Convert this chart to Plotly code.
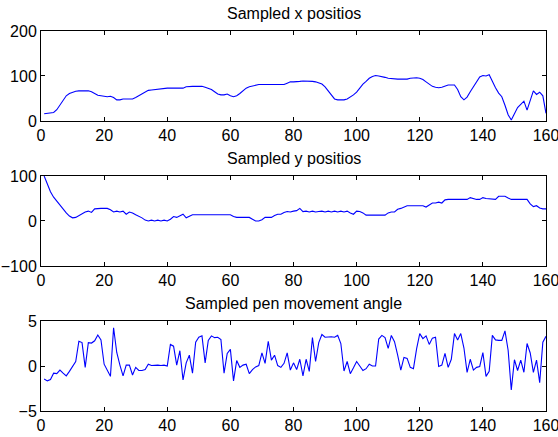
import plotly.graph_objects as go

t = list(range(1, 161))

x_pos = [16, 17, 18, 19, 25, 35, 47, 56, 61, 64, 66, 67, 67, 67, 67, 65, 61, 57, 56, 55,
         54, 55, 52, 47, 47, 49, 49, 49, 49, 52, 56, 60, 64, 68, 69, 70, 71, 72, 72, 73,
         73, 73, 73, 73, 73, 76, 77, 77, 77, 77, 77, 75, 73, 70, 65, 60, 58, 58, 60, 56,
         54, 56, 61, 67, 73, 76, 78, 80, 81, 81, 81, 81, 81, 81, 81, 81, 81, 84, 87, 87,
         87, 88, 89, 89, 89, 88, 87, 85, 82, 76, 67, 56, 49, 47, 47, 47, 49, 53, 58, 64,
         74, 82, 88, 95, 99, 101, 100, 99, 97, 95, 94, 93, 93, 93, 93, 93, 95, 96, 96, 95,
         92, 87, 82, 77, 75, 74, 75, 78, 80, 80, 80, 70, 54, 47, 53, 65, 77, 88, 98, 101,
         100, 103, 88, 74, 62, 54, 35, 14, 2, 18, 30, 37, 44, 24, 45, 67, 59, 64, 56, 17]

y_pos = [100, 81, 65, 53, 44, 35, 27, 18, 11, 7, 8, 12, 16, 20, 22, 19, 27, 28, 28, 28,
         28, 25, 20, 22, 20, 22, 15, 20, 18, 14, 11, 7, 2, 0, 2, 0, 2, 0, 2, 0,
         4, 10, 8, 12, 15, 7, 11, 14, 14, 14, 14, 14, 14, 14, 14, 14, 14, 14, 14, 14,
         10, 8, 8, 8, 8, 8, 4, 0, 0, 3, 8, 8, 8, 12, 15, 15, 19, 21, 20, 22,
         23, 28, 21, 22, 20, 22, 20, 21, 22, 20, 22, 20, 22, 20, 22, 20, 22, 18, 15, 22,
         21, 18, 13, 13, 13, 13, 13, 13, 13, 18, 20, 20, 26, 28, 31, 34, 34, 34, 34, 34,
         34, 31, 36, 40, 40, 42, 40, 47, 48, 48, 48, 48, 48, 48, 48, 52, 50, 48, 48, 52,
         50, 49, 48, 48, 55, 55, 55, 51, 48, 48, 48, 48, 48, 48, 38, 32, 34, 29, 27, 27]

angle = [-1.45, -1.65, -1.5, -0.8, -0.85, -0.45, -0.8, -1.1, -0.6, 0.0,
         0.5, 2.75, 2.6, -0.15, 2.6, 2.55, 2.8, 3.45, 2.9, 0.2,
         -0.5, -1.15, 4.25, 1.5, 0.1, -1.1, 0.1, 0.1, -1.0, -0.15,
         -0.5, -0.5, -0.4, 0.2, 0.05, 0.1, 0.1, 0.05, 0.1, 0.0,
         2.4, 2.2, 0.1, 1.7, -1.55, 0.35, 1.2, -0.8, 2.65, 3.2,
         3.35, 0.35, 2.85, 3.35, 3.15, 3.2, 2.95, -0.8, 1.4, 1.85,
         -1.65, 0.6, -0.15, 0.1, 0.2, -0.85, -0.4, -0.1, 0.05, 1.45,
         0.3, 2.75, 0.65, 1.2, 0.05, -0.15, 0.3, 1.45, -0.45, 0.35,
         -0.4, 0.75, -1.1, 0.75, -0.6, 3.15, 0.5, 2.6, 3.5, 3.2,
         3.25, 3.25, 3.2, 3.4, 2.5, -0.55, 0.5, -0.85, -0.2, 0.5,
         0.0, -0.5, -0.3, 0.2, 0.0, 0.0, 3.0, 3.4, 3.15, 1.95,
         3.4, 2.7, 1.2, -0.45, 0.95, 0.85, -0.15, -0.3, 1.9, 3.6,
         3.05, 3.35, 2.4, 3.1, 3.2, -0.05, 0.1, 1.4, -0.15, 0.75,
         3.6, 2.9, 3.6, 2.0, -0.7, 0.75, -0.45, -0.15, -0.05, 1.5,
         -1.15, -0.6, 3.4, 2.9, 2.85, 2.85, 3.9, 1.75, -2.65, 0.7,
         -0.5, 0.65, -0.7, 2.5, 1.45, -0.7, 0.65, -1.85, 2.65, 3.3]

titles = ["Sampled x positios", "Sampled y positios", "Sampled pen movement angle"]
x_ticks = [0, 20, 40, 60, 80, 100, 120, 140, 160]
y_ticks = [[0, 100, 200], [-100, 0, 100], [-5, 0, 5]]
y_ranges = [[0, 200], [-100, 100], [-5, 5]]
series = [x_pos, y_pos, angle]

FONT = "Liberation Sans, Arial, sans-serif"
FS = 16
domains = [[0.7632, 1.0], [0.3816, 0.6184], [0.0, 0.2368]]

fig = go.Figure()
layout = dict(
    width=558, height=437,
    margin=dict(l=41, r=12, t=31, b=26, autoexpand=False),
    paper_bgcolor="white", plot_bgcolor="white",
    showlegend=False,
    font=dict(family=FONT, size=FS, color="black"),
)
annotations = []
for i in range(3):
    n = "" if i == 0 else str(i + 1)
    fig.add_trace(go.Scatter(x=t, y=series[i], mode="lines",
                             line=dict(color="#0000ff", width=1.1),
                             xaxis="x" + n, yaxis="y" + n, hoverinfo="skip"))
    axis_common = dict(showline=True, linecolor="black", linewidth=1, mirror="ticks",
                       ticks="inside", ticklen=4, tickcolor="black", tickwidth=1,
                       showgrid=False, zeroline=False, automargin=False,
                       ticklabeloverflow="allow",
                       tickfont=dict(family=FONT, size=FS, color="black"))
    layout["xaxis" + n] = dict(axis_common, range=[0, 160], tickvals=x_ticks,
                               anchor="y" + n, domain=[0, 1], ticklabelstandoff=0)
    layout["yaxis" + n] = dict(axis_common, range=y_ranges[i], tickvals=y_ticks[i],
                               anchor="x" + n, domain=domains[i], ticklabelstandoff=0)
    annotations.append(dict(text=titles[i], x=0.5, xref="paper",
                            y=domains[i][1], yref="paper", yanchor="bottom",
                            yshift=7, showarrow=False,
                            font=dict(family=FONT, size=FS, color="black")))
layout["annotations"] = annotations
fig.update_layout(**layout)
fig.write_html("out.html")
